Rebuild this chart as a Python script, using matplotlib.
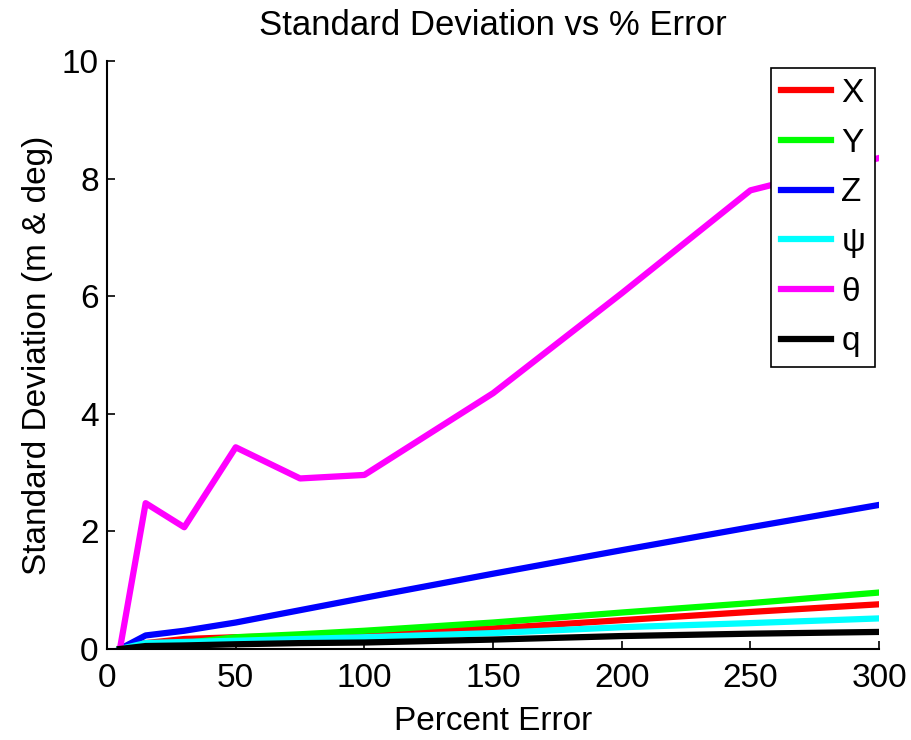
import matplotlib
matplotlib.use("Agg")
import matplotlib.pyplot as plt

plt.rcParams['font.family'] = ['Liberation Sans', 'DejaVu Sans']

# Percent error applied to the inputs
pct_error = [5, 15, 30, 50, 75, 100, 150, 200, 250, 300]

# Standard deviation of each state (m for X/Y/Z, deg for angles)
sd_x = [0.0, 0.10, 0.17, 0.20, 0.22, 0.26, 0.35, 0.49, 0.63, 0.76]
sd_y = [0.0, 0.0, 0.10, 0.20, 0.25, 0.31, 0.45, 0.62, 0.78, 0.96]
sd_z = [0.0, 0.23, 0.31, 0.45, 0.66, 0.87, 1.28, 1.68, 2.07, 2.45]
sd_psi = [0.0, 0.10, 0.12, 0.14, 0.17, 0.20, 0.27, 0.37, 0.44, 0.52]
sd_theta = [0.0, 2.48, 2.07, 3.43, 2.90, 2.96, 4.35, 6.05, 7.80, 8.35]
sd_q = [0.0, 0.05, 0.06, 0.08, 0.10, 0.11, 0.16, 0.22, 0.26, 0.29]

labels = ["X", "Y", "Z", "ψ", "θ", "q"]
colors = ["#ff0000", "#00ff00", "#0000ff", "#00ffff", "#ff00ff", "#000000"]
series = [sd_x, sd_y, sd_z, sd_psi, sd_theta, sd_q]

fig = plt.figure(figsize=(9.11, 7.4), dpi=100)
ax = fig.add_axes([0.1175, 0.123, 0.8475, 0.7946])

for vals, lab, col in zip(series, labels, colors):
    ax.plot(pct_error, vals, color=col, linewidth=4.5, label=lab)

ax.set_xlim(0, 300)
ax.set_ylim(0, 10)
ax.set_xticks([0, 50, 100, 150, 200, 250, 300])
ax.set_yticks([0, 2, 4, 6, 8, 10])
ax.tick_params(direction='in', length=6, width=1.2, labelsize=24, pad=6)
ax.tick_params(axis='x', pad=10)
ax.spines['top'].set_visible(False)
ax.spines['right'].set_visible(False)
ax.spines['left'].set_linewidth(1.5)
ax.spines['bottom'].set_linewidth(1.5)

ax.set_title("Standard Deviation vs % Error", fontsize=25, pad=19)
ax.set_xlabel("Percent Error", fontsize=24, labelpad=9)
ax.set_ylabel("Standard Deviation (m & deg)", fontsize=24, labelpad=6)

leg = ax.legend(loc='upper right', bbox_to_anchor=(0.995, 0.988), borderaxespad=0,
                fontsize=24, handlelength=1.5, handletextpad=0.3, labelspacing=0.56,
                borderpad=0.3, fancybox=False, framealpha=1, edgecolor='black')
leg.get_frame().set_linewidth(1.2)

fig.savefig("out.png", dpi=100)
